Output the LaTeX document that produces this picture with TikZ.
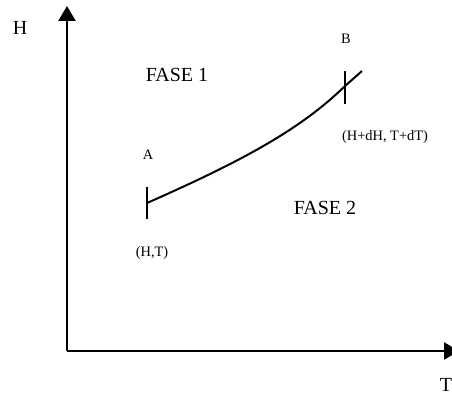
\documentclass[tikz,border=0pt]{standalone}
\usepackage{fontspec}
\setmainfont{Liberation Serif}
\usetikzlibrary{arrows.meta}
\begin{document}
\begin{tikzpicture}[x=1pt,y=-1pt,
  big/.style={font=\fontsize{20}{24}\selectfont, inner sep=0pt},
  small/.style={font=\fontsize{14.4}{17}\selectfont, inner sep=0pt},
  axis/.style={line width=2.4pt, -{Triangle[length=15pt,width=17pt]}},
  tick/.style={line width=2pt},
  curve/.style={line width=2pt}]
\useasboundingbox (0,0) rectangle (452,396);
\clip (0,0) rectangle (452,396);
\coordinate (O) at (67,351);
\coordinate (ytip) at (67,6);
\coordinate (xtip) at (459,351);
\draw[axis] (O) -- (ytip);
\draw[axis] (O) -- (xtip);
\node[big] (H) at (20,28) {H};
\node[big] (T) at (446,385) {T};
\node[big] (f1) at (177,75) {FASE 1};
\node[big] (f2) at (325,208) {FASE 2};
\coordinate (a) at (147,203);
\coordinate (b) at (345,86);
\coordinate (e) at (362,71);
\draw[tick] (147,187) -- (147,219);
\draw[tick] (345,71) -- (345,104);
\draw[curve] (a) .. controls (240,162) and (300,130) .. (b) -- (e);
\node[small] (A) at (148,155) {A};
\node[small] (B) at (346,39) {B};
\node[small] (HT) at (152,253) {(H,T)};
\node[small] (HdH) at (385,137) {(H+dH, T+dT)};
\end{tikzpicture}
\end{document}
